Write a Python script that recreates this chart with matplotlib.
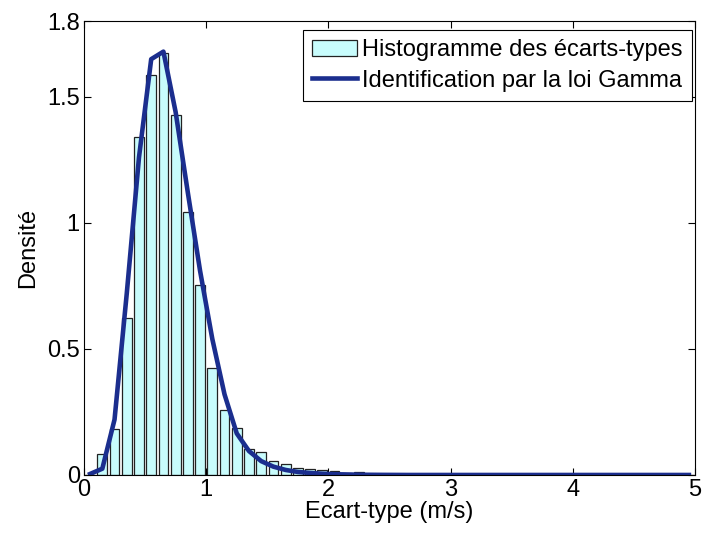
#!/usr/bin/env python3
import numpy as np
import matplotlib
matplotlib.use('Agg')
import matplotlib.pyplot as plt

plt.rcParams['font.family'] = ['Liberation Sans', 'DejaVu Sans']

# bin centres (m/s), 50 bins of 0.1 from 0 to 5
centres = np.round(np.arange(0.05, 5.0, 0.1), 2)

# histogram densities
hist_vals = [0.0, 0.082, 0.181, 0.624, 1.340, 1.587, 1.673, 1.429, 1.045, 0.753,
             0.423, 0.258, 0.185, 0.102, 0.091, 0.054, 0.042, 0.026, 0.022, 0.018,
             0.017, 0.006, 0.013, 0.004, 0.003, 0.002, 0.0, 0.0, 0.0, 0.0,
             0.0, 0.0, 0.0, 0.0, 0.0, 0.0, 0.0, 0.0, 0.0, 0.0,
             0.0, 0.0, 0.0, 0.0, 0.0, 0.0, 0.0, 0.0, 0.0, 0.0]

# fitted gamma density at the bin centres
gamma_vals = [0.004, 0.025, 0.22, 0.72, 1.26, 1.65, 1.68, 1.44, 1.12, 0.81,
              0.54, 0.32, 0.165, 0.095, 0.055, 0.033, 0.02, 0.012, 0.008, 0.005,
              0.003, 0.002, 0.001, 0.0007, 0.0004, 0.0002, 0.0, 0.0, 0.0, 0.0,
              0.0, 0.0, 0.0, 0.0, 0.0, 0.0, 0.0, 0.0, 0.0, 0.0,
              0.0, 0.0, 0.0, 0.0, 0.0, 0.0, 0.0, 0.0, 0.0, 0.0]

yticks = [0, 0.5, 1, 1.5, 1.8]
yticklabels = ['0', '0.5', '1', '1.5', '1.8']

fs = 17

fig = plt.figure(figsize=(7.04, 5.37), dpi=100)
ax = fig.add_axes([0.1193, 0.1155, 0.8679, 0.8447])

bars = ax.bar(centres, hist_vals, width=0.08, color='#c8fcfc', edgecolor='#222222',
              linewidth=0.9)
line, = ax.plot(centres, gamma_vals, color='#1b2e8e', linewidth=3.3)

ax.set_xlim(0, 5)
ax.set_ylim(0, 1.8)
ax.set_yticks(yticks)
ax.set_yticklabels(yticklabels)
ax.set_xticks([0, 1, 2, 3, 4, 5])
ax.tick_params(direction='in', top=True, right=True, length=5, width=0.8,
               labelsize=fs, pad=3)
for s in ax.spines.values():
    s.set_linewidth(0.8)

ax.set_xlabel('Ecart-type (m/s)', fontsize=fs, labelpad=0)
ax.set_ylabel('Densité', fontsize=fs, labelpad=6)

leg = ax.legend([bars, line],
                ['Histogramme des écarts-types', 'Identification par la loi Gamma'],
                loc='upper right', bbox_to_anchor=(0.9946, 0.981),
                borderaxespad=0, fontsize=fs, handlelength=1.9,
                handletextpad=0.2, labelspacing=0.35, borderpad=0.4,
                fancybox=False, framealpha=1, edgecolor='black')
leg.get_frame().set_linewidth(0.8)

fig.savefig('out.png', dpi=100)
